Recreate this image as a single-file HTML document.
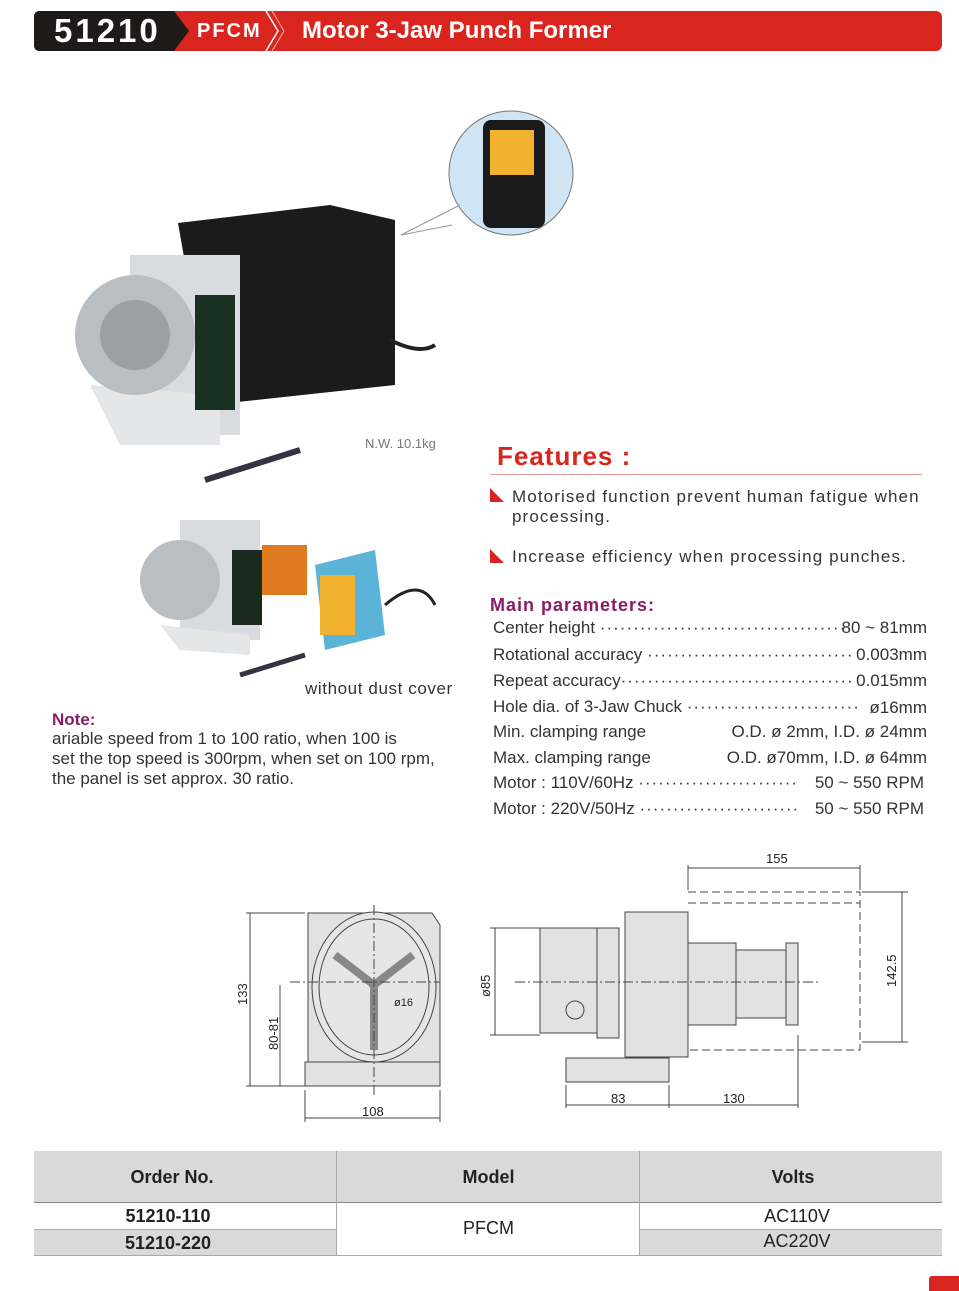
<!DOCTYPE html>
<html><head><meta charset="utf-8"><style>
body{margin:0;width:959px;height:1291px;background:#fff;position:relative;overflow:hidden;font-family:"Liberation Sans",sans-serif;color:#222}
.a{position:absolute}
.p{position:absolute;font-size:17px;color:#333;white-space:nowrap}
.dots{letter-spacing:1px}
</style></head><body>
<!-- header -->
<div class="a" style="left:34px;top:11px;width:908px;height:40px;background:#d9251d;border-radius:6px"></div>
<svg class="a" style="left:34px;top:11px" width="260" height="40"><path d="M6 0H140L155 20L140 40H6Q0 40 0 34V6Q0 0 6 0Z" fill="#1e1a1a"/><path d="M232 0L244 20L232 40" stroke="#fff" stroke-width="1.5" fill="none"/><path d="M238 0L250 20L238 40" stroke="#f3b0ad" stroke-width="1" fill="none"/></svg>
<div class="a" style="left:54px;top:12px;font-size:33px;font-weight:bold;color:#fff;letter-spacing:3px">51210</div>
<div class="a" style="left:197px;top:20px;font-size:20px;font-weight:bold;color:#fff;letter-spacing:2px">PFCM</div>
<div class="a" style="left:302px;top:17px;font-size:24px;font-weight:bold;color:#fff">Motor 3-Jaw Punch Former</div>

<!-- product image 1 -->
<svg class="a" style="left:60px;top:105px" width="520" height="390">
<circle cx="451" cy="68" r="62" fill="#cfe4f5" stroke="#777"/>
<rect x="423" y="15" width="62" height="108" rx="8" fill="#1a1a1a"/>
<rect x="430" y="25" width="44" height="45" fill="#f2b230"/>
<line x1="341" y1="130" x2="400" y2="100" stroke="#999"/><line x1="341" y1="130" x2="392" y2="120" stroke="#999"/>
<path d="M118 118L270 100L335 115L335 280L150 300Z" fill="#1b1b1b"/>
<rect x="70" y="150" width="110" height="180" fill="#d8dce0"/>
<path d="M30 280L160 290L160 340L60 340Z" fill="#e4e6e8"/>
<circle cx="75" cy="230" r="60" fill="#b9bec3"/><circle cx="75" cy="230" r="35" fill="#9aa0a6"/>
<rect x="135" y="190" width="40" height="115" fill="#183020"/>
<path d="M330 235Q360 250 375 240" stroke="#222" stroke-width="4" fill="none"/>
<line x1="145" y1="375" x2="240" y2="345" stroke="#334" stroke-width="6"/>
</svg>
<div class="a" style="left:365px;top:436px;font-size:13px;color:#777">N.W. 10.1kg</div>
<!-- image 2 -->
<svg class="a" style="left:140px;top:515px" width="310" height="170">
<rect x="40" y="5" width="80" height="120" fill="#d8dce0"/>
<path d="M20 110L110 120L110 140L40 135Z" fill="#e4e6e8"/>
<circle cx="40" cy="65" r="40" fill="#b9bec3"/>
<rect x="92" y="35" width="30" height="75" fill="#1b2a1e"/>
<rect x="122" y="30" width="45" height="50" fill="#e07a20"/>
<path d="M175 50L235 35L245 120L185 135Z" fill="#5bb3d8"/>
<rect x="180" y="60" width="35" height="60" fill="#f2b230"/>
<path d="M245 90Q280 60 295 90" stroke="#222" stroke-width="3" fill="none"/>
<line x1="100" y1="160" x2="165" y2="140" stroke="#334" stroke-width="5"/>
</svg>
<div class="a" style="left:305px;top:679px;font-size:17px;color:#333;letter-spacing:.6px">without dust cover</div>

<!-- Note -->
<div class="a" style="left:52px;top:710px;font-size:17px;color:#8a1a6a;font-weight:bold">Note:</div>
<div class="a" style="left:52px;top:729px;font-size:17px;line-height:20px;color:#333">ariable speed from 1 to 100 ratio, when 100 is<br>set the top speed is 300rpm, when set on 100 rpm,<br>the panel is set approx. 30 ratio.</div>

<!-- Features -->
<div class="a" style="left:497px;top:441px;font-size:26px;font-weight:bold;color:#d9251d;letter-spacing:1px">Features :</div>
<div class="a" style="left:490px;top:474px;width:432px;height:1px;background:#e79a96"></div>
<svg class="a" style="left:490px;top:488px" width="14" height="80"><path d="M0 0L14 14H0Z" fill="#d9251d"/><path d="M0 61L14 75H0Z" fill="#d9251d"/></svg>
<div class="a" style="left:512px;top:487px;font-size:17px;line-height:20px;color:#333;letter-spacing:1.1px">Motorised function prevent human fatigue when<br>processing.</div>
<div class="a" style="left:512px;top:547px;font-size:17px;color:#333;letter-spacing:1.1px">Increase efficiency when processing punches.</div>

<!-- Params -->
<div class="a" style="left:490px;top:595px;font-size:18px;font-weight:bold;color:#8a1a6a;letter-spacing:1px">Main parameters:</div>
<div class="p" style="left:493px;top:618px">Center height <span class="dots">······································</span></div><div class="p" style="right:32px;top:618px">80 ~ 81mm</div>
<div class="p" style="left:493px;top:645px">Rotational accuracy <span class="dots">·······························</span></div><div class="p" style="right:32px;top:645px">0.003mm</div>
<div class="p" style="left:493px;top:671px">Repeat accuracy<span class="dots">···································</span></div><div class="p" style="right:32px;top:671px">0.015mm</div>
<div class="p" style="left:493px;top:697px">Hole dia. of 3-Jaw Chuck <span class="dots">··························</span></div><div class="p" style="right:32px;top:698px">ø16mm</div>
<div class="p" style="left:493px;top:722px">Min. clamping range</div><div class="p" style="right:32px;top:722px">O.D. ø 2mm, I.D. ø 24mm</div>
<div class="p" style="left:493px;top:748px">Max. clamping range</div><div class="p" style="right:32px;top:748px">O.D. ø70mm, I.D. ø 64mm</div>
<div class="p" style="left:493px;top:773px">Motor : 110V/60Hz <span class="dots">························</span></div><div class="p" style="right:35px;top:773px">50 ~ 550 RPM</div>
<div class="p" style="left:493px;top:799px">Motor : 220V/50Hz <span class="dots">························</span></div><div class="p" style="right:35px;top:799px">50 ~ 550 RPM</div>

<!-- drawings -->
<svg class="a" style="left:0;top:0" width="959" height="1291" font-family="Liberation Sans" font-size="13" fill="#222">
<g stroke="#444" stroke-width="1" fill="none">
<path d="M308 913H432L440 925V1062H308Z" fill="#e2e2e2"/>
<rect x="305" y="1062" width="135" height="24" fill="#e2e2e2"/>
<ellipse cx="374" cy="987" rx="62" ry="75" fill="#e6e6e6"/>
<ellipse cx="374" cy="987" rx="55" ry="68"/>
<path d="M374 985L335 955M374 985L413 955M374 985V1050" stroke="#888" stroke-width="8"/>
<line x1="374" y1="905" x2="374" y2="1095" stroke-dasharray="10 3 2 3"/>
<line x1="290" y1="982" x2="440" y2="982" stroke-dasharray="10 3 2 3"/>
<line x1="246" y1="913" x2="305" y2="913"/><line x1="246" y1="1086" x2="305" y2="1086"/>
<line x1="250" y1="913" x2="250" y2="1086"/>
<line x1="280" y1="985" x2="280" y2="1086"/>
<line x1="305" y1="1090" x2="305" y2="1122"/><line x1="440" y1="1090" x2="440" y2="1122"/>
<line x1="305" y1="1118" x2="440" y2="1118"/>
<rect x="540" y="928" width="60" height="105" fill="#e2e2e2"/>
<rect x="597" y="928" width="22" height="110" fill="#e2e2e2"/>
<rect x="625" y="912" width="63" height="145" fill="#e2e2e2"/>
<rect x="688" y="943" width="48" height="82" fill="#e2e2e2"/>
<rect x="736" y="950" width="50" height="68" fill="#e2e2e2"/>
<rect x="786" y="943" width="12" height="82" fill="#e2e2e2"/>
<rect x="566" y="1058" width="103" height="24" fill="#e2e2e2"/>
<circle cx="575" cy="1010" r="9"/>
<line x1="515" y1="982" x2="820" y2="982" stroke-dasharray="10 3 2 3"/>
<path d="M688 892H860V1050H688M688 903H860" stroke-dasharray="8 4"/>
<line x1="490" y1="928" x2="540" y2="928"/><line x1="490" y1="1035" x2="540" y2="1035"/>
<line x1="495" y1="928" x2="495" y2="1035"/>
<line x1="688" y1="865" x2="688" y2="890"/><line x1="860" y1="865" x2="860" y2="890"/>
<line x1="688" y1="868" x2="860" y2="868"/>
<line x1="862" y1="892" x2="908" y2="892"/><line x1="862" y1="1042" x2="908" y2="1042"/>
<line x1="902" y1="892" x2="902" y2="1042"/>
<line x1="566" y1="1085" x2="566" y2="1108"/><line x1="669" y1="1085" x2="669" y2="1108"/><line x1="798" y1="1035" x2="798" y2="1108"/>
<line x1="566" y1="1105" x2="798" y2="1105"/>
</g>
<text x="362" y="1116">108</text><text x="611" y="1103">83</text><text x="723" y="1103">130</text><text x="766" y="863">155</text>
<text x="394" y="1006" font-size="11">ø16</text>
<text transform="translate(247 1005) rotate(-90)">133</text>
<text transform="translate(278 1050) rotate(-90)">80-81</text>
<text transform="translate(490 997) rotate(-90)">ø85</text>
<text transform="translate(896 987) rotate(-90)">142.5</text>
</svg>

<!-- table -->
<div class="a" style="left:34px;top:1151px;width:908px;height:51px;background:#d9d9d9"></div>
<div class="a" style="left:34px;top:1229px;width:303px;height:26px;background:#d9d9d9"></div>
<div class="a" style="left:640px;top:1229px;width:302px;height:26px;background:#d9d9d9"></div>
<div class="a" style="left:34px;top:1202px;width:908px;height:1px;background:#888"></div>
<div class="a" style="left:34px;top:1255px;width:908px;height:1px;background:#aaa"></div>
<div class="a" style="left:34px;top:1229px;width:303px;height:1px;background:#aaa"></div>
<div class="a" style="left:640px;top:1229px;width:302px;height:1px;background:#aaa"></div>
<div class="a" style="left:336px;top:1151px;width:1px;height:104px;background:#aaa"></div>
<div class="a" style="left:639px;top:1151px;width:1px;height:104px;background:#aaa"></div>
<div class="a" style="left:34px;top:1167px;width:276px;text-align:center;font-size:18px;font-weight:bold">Order No.</div>
<div class="a" style="left:337px;top:1167px;width:303px;text-align:center;font-size:18px;font-weight:bold">Model</div>
<div class="a" style="left:640px;top:1167px;width:306px;text-align:center;font-size:18px;font-weight:bold">Volts</div>
<div class="a" style="left:34px;top:1206px;width:268px;text-align:center;font-size:18px;font-weight:bold">51210-110</div>
<div class="a" style="left:34px;top:1233px;width:268px;text-align:center;font-size:18px;font-weight:bold">51210-220</div>
<div class="a" style="left:337px;top:1218px;width:303px;text-align:center;font-size:18px">PFCM</div>
<div class="a" style="left:640px;top:1206px;width:314px;text-align:center;font-size:18px">AC110V</div>
<div class="a" style="left:640px;top:1231px;width:314px;text-align:center;font-size:18px">AC220V</div>
<div class="a" style="left:929px;top:1276px;width:30px;height:15px;background:#d9251d;border-radius:3px 0 0 0"></div>
</body></html>
